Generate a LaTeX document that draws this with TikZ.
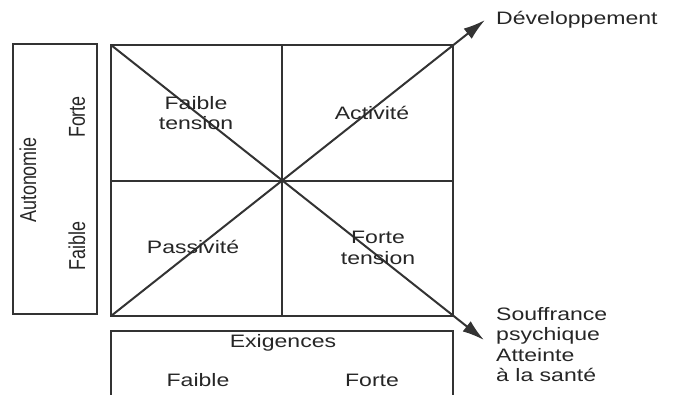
\documentclass[tikz,border=0pt]{standalone}
\usepackage{fontspec}
\newfontfamily\diagfont{Liberation Sans}[FakeStretch=1.28]
\newfontfamily\diagfontup{Liberation Sans}[FakeStretch=0.78]
\usetikzlibrary{arrows.meta, positioning}

\begin{document}
\begin{tikzpicture}[
    x=1pt, y=-1pt,
    frame/.style={draw=black!80, line width=2pt},
    lbl/.style={inner sep=0pt, text=black!85, align=center, font=\diagfont\fontsize{18}{20.5}\selectfont},
    vlbl/.style={inner sep=0pt, text=black!85, rotate=90, font=\diagfontup\fontsize{23}{25}\selectfont},
    arrow/.style={draw=black!80, line width=2pt, -{Latex[length=22pt, width=13pt]}}
]
    \useasboundingbox (0,0) rectangle (675,394);

    % main square, its corners
    \coordinate (tl) at (111,45);
    \coordinate (tr) at (453,45);
    \coordinate (bl) at (111,316);
    \coordinate (br) at (453,316);
    \coordinate (mid) at (282,180.5);
    \coordinate (devtip) at (485,20);
    \coordinate (souftip) at (484,340);

    \draw[frame] (tl) rectangle (br);
    \draw[frame] (mid |- tl) -- (mid |- bl);
    \draw[frame] (mid -| tl) -- (mid -| tr);

    % side boxes
    \draw[frame] (13,44) rectangle (97,314);
    \draw[frame] (111,395) -- (111,331) -- (453,331) -- (453,395);

    % diagonals
    \draw[arrow] (bl) -- (devtip);
    \draw[arrow] (tl) -- (souftip);

    % quadrants
    \node[lbl] (calme) at (196,113) {Faible\\tension};
    \node[lbl] (actif) at (372,113) {Activité};
    \node[lbl] (passif) at (193,247) {Passivité};
    \node[lbl] (tendu) at (378,248) {Forte\\tension};

    % autonomie axis
    \node[vlbl] (auto) at (28,180) {Autonomie};
    \node[vlbl] (autohaut) at (77,117) {Forte};
    \node[vlbl] (autobas) at (77,246) {Faible};

    % exigences axis
    \node[lbl] (exig) at (283,343) {Exigences};
    \node[lbl] (exigbas) at (198,380) {Faible};
    \node[lbl] (exighaut) at (372,380) {Forte};

    % outcomes
    \node[lbl, anchor=west] (dev) at (496,20) {Développement};
    \node[lbl, anchor=north west, align=left] (souf) at (496,307)
        {Souffrance\\psychique\\Atteinte\\à la santé};
\end{tikzpicture}
\end{document}
